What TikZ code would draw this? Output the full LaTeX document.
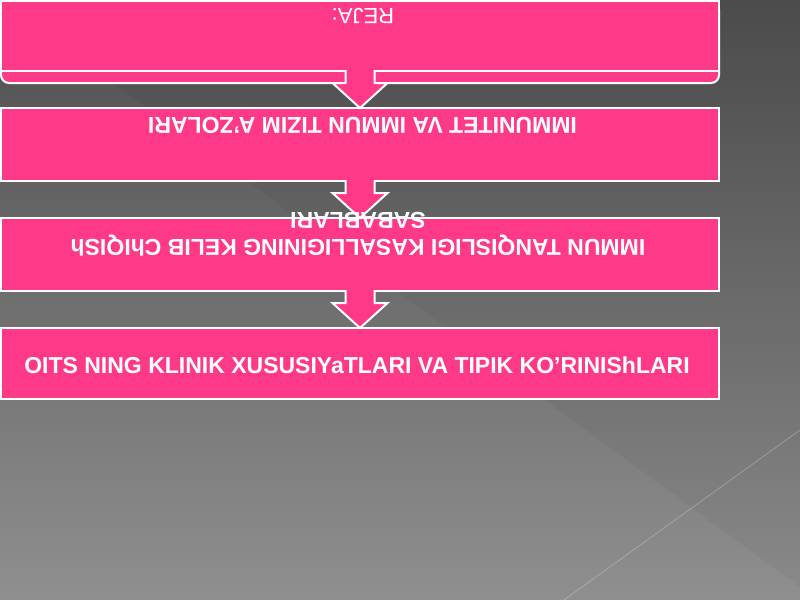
\documentclass[tikz,border=0pt]{standalone}
\usepackage{fontspec}
\setmainfont{Liberation Sans}
\usetikzlibrary{calc}
\definecolor{rozafill}{RGB}{254,58,136}
\definecolor{bgtop}{RGB}{78,78,78}
\definecolor{bgmid}{RGB}{92,92,92}
\definecolor{bgbottom}{RGB}{143,143,143}

\begin{document}
\begin{tikzpicture}[x=0.75pt, y=-0.75pt,
	pinkbox/.style={draw=white, line width=1.5pt, fill=rozafill, minimum width=538.5pt, inner sep=0pt, outer sep=0pt},
	blockarrow/.style={draw=white, line width=1.5pt, fill=rozafill, line join=miter},
	boxtext/.style={text=white, font=\fontsize{17.25}{20.5}\selectfont\bfseries, align=center}]
		\useasboundingbox (0,0) rectangle (800,600);
		% background
		\shade[top color=bgtop, middle color=bgmid, bottom color=bgbottom] (0,0) rectangle (800,600);
		\fill[black, opacity=0.035] (0,0) -- (800,587) -- (800,0) -- cycle;
		\draw[white, opacity=0.25, line width=0.6pt] (564,600) -- (800,430);
		% boxes
		\draw
		node[pinkbox, minimum height=61.5pt, rounded corners=6pt] (rejabase) at (360,42) {}
		node[pinkbox, minimum height=52.5pt] (rejatop)   at (360,36) {}
		node[pinkbox, minimum height=54.75pt] (immunitet) at (360,144.5) {}
		node[pinkbox, minimum height=54.75pt] (tanqislik) at (360,254.5) {}
		node[pinkbox, minimum height=53.25pt] (oits)      at (360,363.5) {};
		% arrows
		\foreach \from/\to in {rejatop/immunitet, immunitet/tanqislik, tanqislik/oits}
			\draw[blockarrow] ($(\from.south)+(-14.5,-1)$) -- ($(\to.north)+(-14.5,-25)$) -- ($(\to.north)+(-27.5,-25)$) -- (\to.north)
				-- ($(\to.north)+(27.5,-25)$) -- ($(\to.north)+(14.5,-25)$) -- ($(\from.south)+(14.5,-1)$);
		% texts
		\node[boxtext, font=\fontsize{16.5}{19}\selectfont, rotate=180] (rejatext) at (363,15.5) {REJA:};
		\node[boxtext, rotate=180] (immunitettext) at (362.5,125) {IMMUNITET VA IMMUN TIZIM A’ZOLARI};
		\node[boxtext, rotate=180] (tanqisliktext) at (358,234) {IMMUN TANQISLIGI KASALLIGINING KELIB ChIQISh\\SABABLARI};
		\node[boxtext] (oitstext) at (357,365) {OITS NING KLINIK XUSUSIYaTLARI VA TIPIK KO’RINIShLARI};
\end{tikzpicture}
\end{document}
